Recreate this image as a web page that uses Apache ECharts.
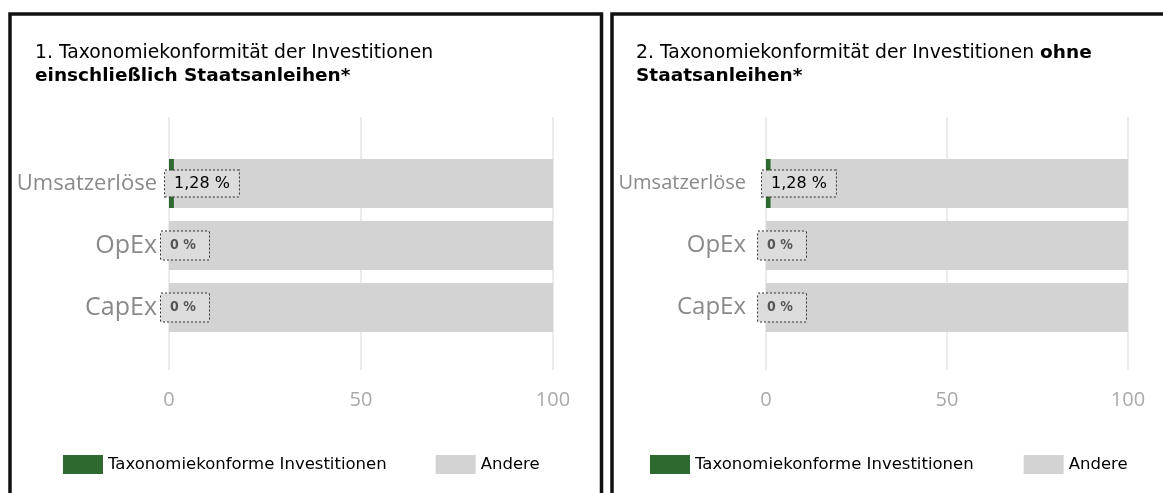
<!DOCTYPE html>
<html>
<head>
<meta charset="utf-8">
<script src="https://cdn.jsdelivr.net/npm/echarts@6/dist/echarts.min.js"></script>
<style>
  body { margin: 0; background: #fff; }
  #main { width: 1163px; height: 493px; }
</style>
</head>
<body>
<div id="main"></div>
<script>
var categories = ["Umsatzerlöse", "OpEx", "CapEx"];
var alignedWithBonds = [1.28, 0, 0];
var otherWithBonds = [98.72, 100, 100];
var alignedNoBonds = [1.28, 0, 0];
var otherNoBonds = [98.72, 100, 100];
var seriesNames = ["Taxonomiekonforme Investitionen", "Andere"];

var GREEN = "#2e6930";
var GREY = "#d3d3d3";
var FONT = "DejaVu Sans";

function fmt(v) {
  return v === 0 ? "0 %" : String(v).replace(".", ",") + " %";
}

// label box at the start of each bar, zero values get the wider blurry box
function labelled(values) {
  return values.map(function(v) {
    var zero = v === 0;
    return {
      value: v,
      label: {
        show: true,
        formatter: fmt(v),
        position: [zero ? -8 : -4, "50%"],
        verticalAlign: "middle",
        align: "left",
        fontFamily: zero ? "DejaVu Sans Condensed" : FONT,
        fontSize: zero ? 14 : 16,
        fontWeight: zero ? "bold" : "normal",
        color: zero ? "#555" : "#000",
        backgroundColor: "#dcdcdc",
        borderColor: "#333",
        borderWidth: 1,
        borderType: [2, 2],
        padding: zero ? [7, 9] : [5, 9],
        width: zero ? 30 : null
      }
    };
  });
}

function barSeries(gridIdx, aligned, other) {
  return [
    {
      name: seriesNames[0],
      type: "bar",
      stack: "s" + gridIdx,
      xAxisIndex: gridIdx,
      yAxisIndex: gridIdx,
      barWidth: 49,
      itemStyle: { color: GREEN },
      data: labelled(aligned),
      z: 3
    },
    {
      name: seriesNames[1],
      type: "bar",
      stack: "s" + gridIdx,
      xAxisIndex: gridIdx,
      yAxisIndex: gridIdx,
      barWidth: 49,
      itemStyle: { color: GREY },
      data: other,
      z: 2
    }
  ];
}

var panels = [
  { left: 169, width: 384, catSmall: 22, catBig: 25, catMargin: 12, legendLeft: 63, legendGap: 49 },
  { left: 766, width: 362, catSmall: 20, catBig: 24, catMargin: 20, legendLeft: 650, legendGap: 50 }
];

var grids = [], xAxes = [], yAxes = [], legends = [];
panels.forEach(function(p) {
  // bar grid
  grids.push({ left: p.left, width: p.width, top: 152.5, height: 186 });
  xAxes.push({ type: "value", gridIndex: grids.length - 1, min: 0, max: 100, show: false });
  yAxes.push({
    type: "category",
    gridIndex: grids.length - 1,
    inverse: true,
    data: categories,
    axisLine: { show: false },
    axisTick: { show: false },
    axisLabel: {
      margin: p.catMargin,
      // the long label sits smaller than the short ones in the source
      formatter: function(v) {
        return v.length > 6 ? "{s|" + v + "}" : "{l|" + v + "}";
      },
      rich: {
        s: { color: "#8a8a8a", fontSize: p.catSmall, fontFamily: "Open Sans" },
        l: { color: "#8a8a8a", fontSize: p.catBig, fontFamily: "Open Sans" }
      }
    }
  });
  legends.push({
    left: p.legendLeft,
    top: 455,
    padding: 0,
    icon: "rect",
    itemWidth: 40,
    itemHeight: 19,
    itemGap: p.legendGap,
    textStyle: { color: "#000", fontSize: 16.5, fontFamily: FONT },
    data: seriesNames
  });
});
panels.forEach(function(p) {
  // taller grid only for the value gridlines and tick labels
  grids.push({ left: p.left, width: p.width, top: 117, height: 253 });
  xAxes.push({
    type: "value",
    gridIndex: grids.length - 1,
    min: 0,
    max: 100,
    interval: 50,
    axisLine: { show: false },
    axisTick: { show: false },
    splitLine: { lineStyle: { color: "#e4e4e4", width: 1.5 } },
    axisLabel: { color: "#aaa", fontSize: 20, fontFamily: "Open Sans", margin: 20 }
  });
  yAxes.push({ type: "category", gridIndex: grids.length - 1, data: [""], show: false });
});

var series = [].concat(
  barSeries(0, alignedWithBonds, otherWithBonds),
  barSeries(1, alignedNoBonds, otherNoBonds)
);

var titleRich = {
  n: { fontFamily: FONT, fontSize: 18.8, fontWeight: "normal", color: "#000", lineHeight: 23 },
  b: { fontFamily: FONT, fontSize: 18.5, fontWeight: "bold", color: "#000", lineHeight: 23 }
};

var option = {
  backgroundColor: "#fff",
  animation: false,
  title: [
    {
      left: 35,
      top: 42,
      padding: 0,
      text: "{n|1. Taxonomiekonformität der Investitionen}\n{b|einschließlich Staatsanleihen*}",
      textStyle: { fontWeight: "normal", rich: titleRich }
    },
    {
      left: 636,
      top: 42,
      padding: 0,
      text: "{n|2. Taxonomiekonformität der Investitionen }{b|ohne}\n{b|Staatsanleihen*}",
      textStyle: { fontWeight: "normal", rich: titleRich }
    }
  ],
  legend: legends,
  grid: grids,
  xAxis: xAxes,
  yAxis: yAxes,
  series: series,
  graphic: [
    {
      type: "rect",
      shape: { x: 10, y: 14, width: 591.5, height: 600 },
      style: { fill: null, stroke: "#111", lineWidth: 3.5 }
    },
    {
      type: "rect",
      shape: { x: 612, y: 14, width: 600, height: 600 },
      style: { fill: null, stroke: "#111", lineWidth: 3.5 }
    }
  ]
};

var myChart = echarts.init(document.getElementById("main"));
myChart.setOption(option);
</script>
</body>
</html>
